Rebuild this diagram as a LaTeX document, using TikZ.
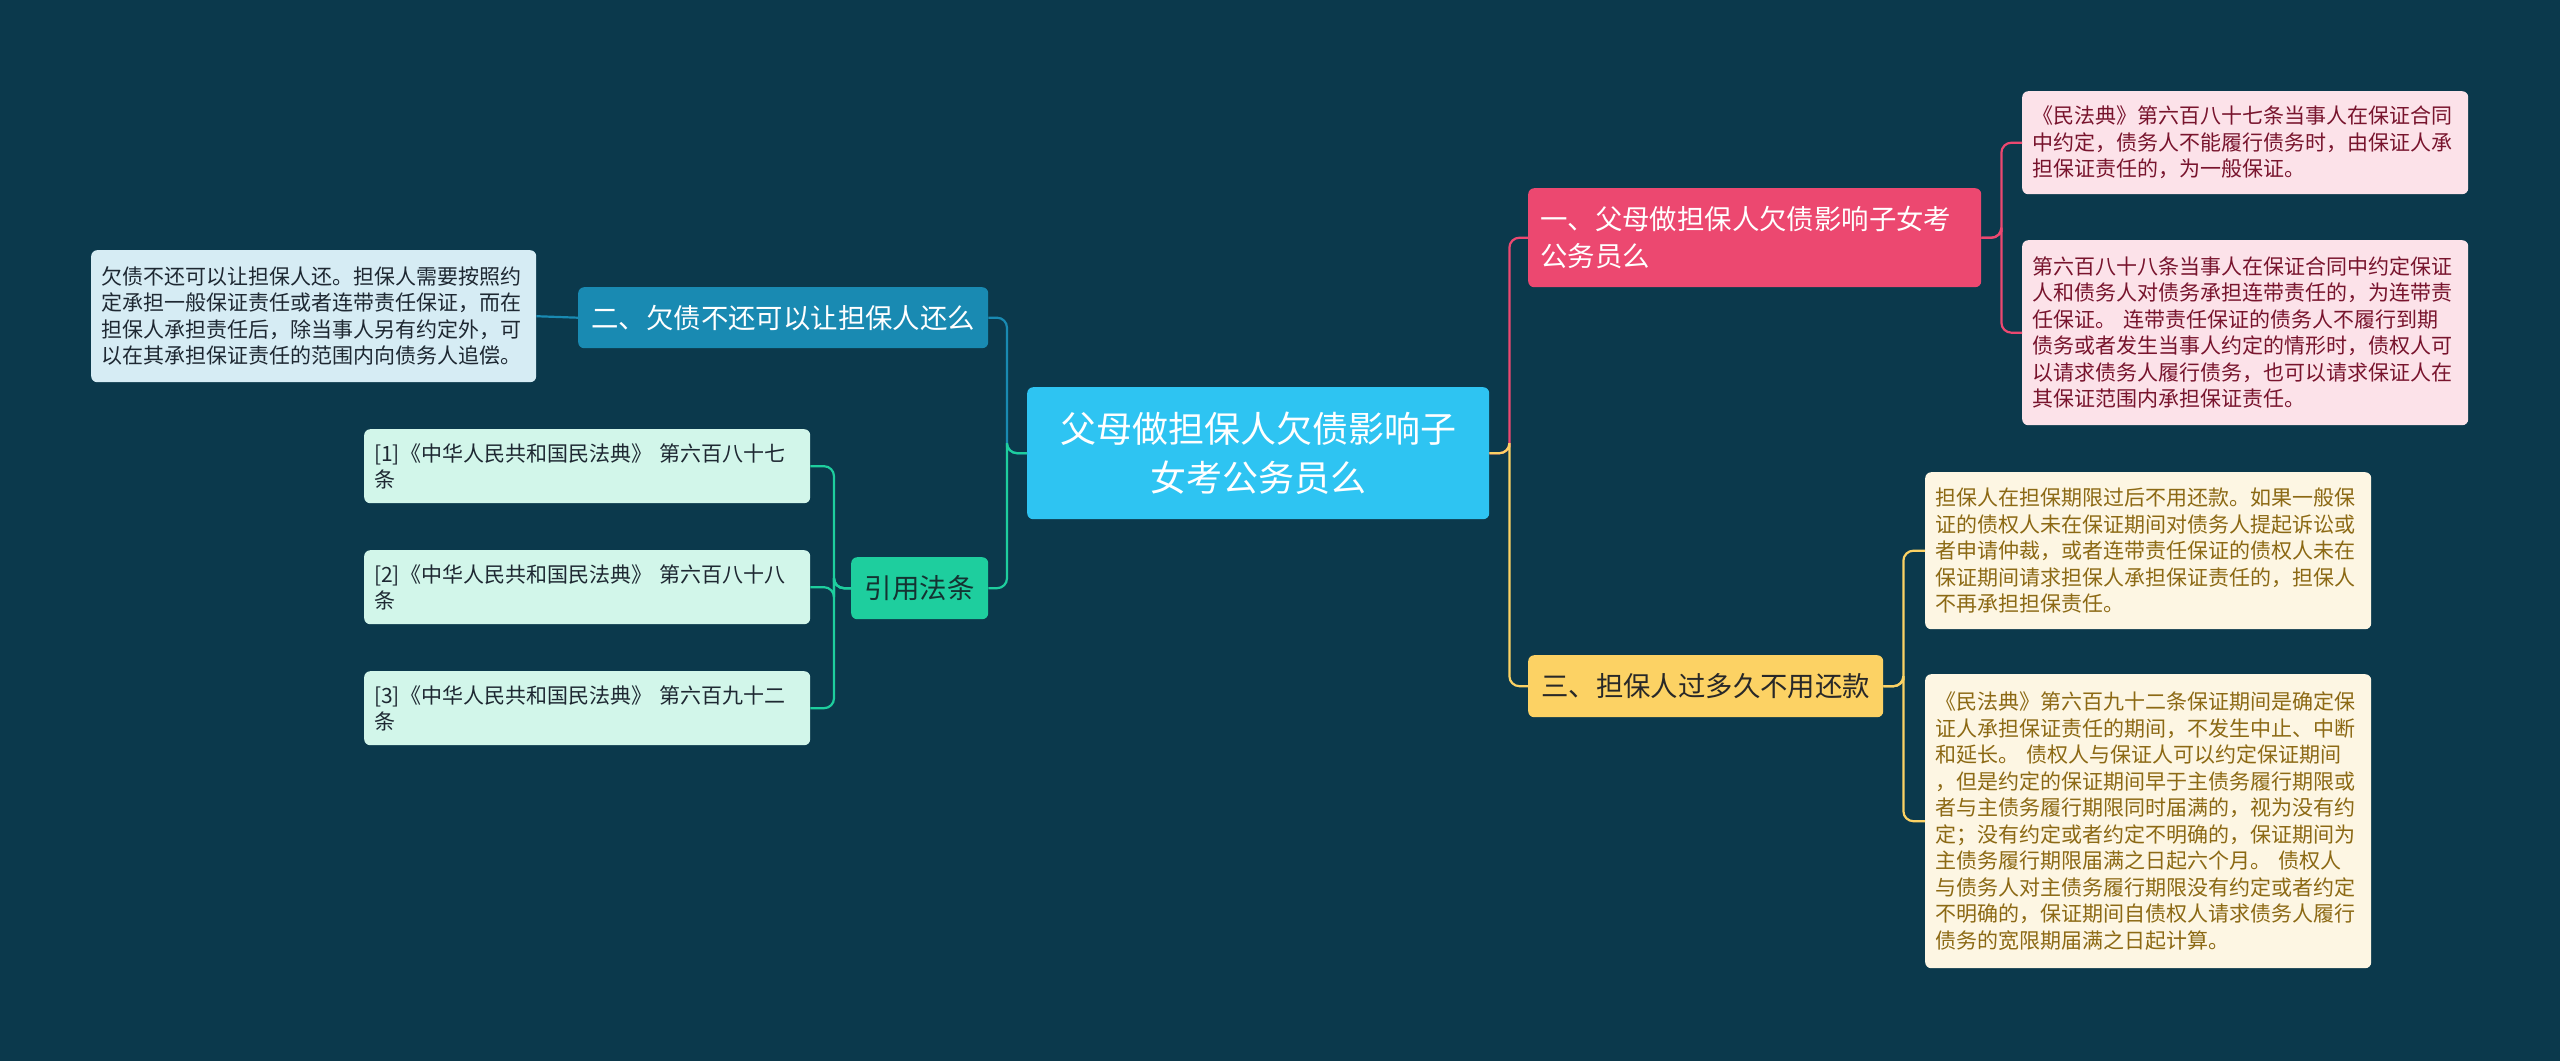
\documentclass[tikz,border=0pt]{standalone}
\usepackage{fontspec}
\setmainfont{Noto Sans CJK SC}
\begin{document}
\begin{tikzpicture}[x=1pt,y=-1pt,
  bx/.style={rounded corners=6pt, inner sep=0pt, anchor=north west, draw=none},
  leaf/.style={bx, inner xsep=10pt, font=\fontsize{21}{26.5}\selectfont, align=left, text width=426pt},
  lnk/.style={line width=2.2pt, rounded corners=10pt}]
\fill[fill={rgb,255:red,11;green,57;blue,76}] (0,0) rectangle (2560,1061);
\useasboundingbox (0,0) rectangle (2560,1061);
\definecolor{pinkd}{RGB}{236,72,112}
\definecolor{yel}{RGB}{252,210,100}
\definecolor{blu}{RGB}{25,138,178}
\definecolor{grn}{RGB}{30,206,158}
% center
\node[bx, fill={rgb,255:red,46;green,196;blue,242}, minimum width=462pt, minimum height=132pt, text=white, font=\fontsize{36}{49}\selectfont, align=center] (c) at (1027,387) {父母做担保人欠债影响子\\女考公务员么};
% branch 1
\node[bx, inner xsep=12pt, fill=pinkd, minimum width=453pt, minimum height=99pt, text=white, font=\fontsize{27.4}{37}\selectfont, align=left, text width=429pt] (b1) at (1528,188) {一、父母做担保人欠债影响子女考\\公务员么};
\node[leaf, fill={rgb,255:red,252;green,226;blue,233}, text={rgb,255:red,120;green,20;blue,45}, minimum width=446pt, minimum height=103pt] (p1) at (2022,91) {《民法典》第六百八十七条当事人在保证合同\\中约定，债务人不能履行债务时，由保证人承\\担保证责任的，为一般保证。};
\node[leaf, fill={rgb,255:red,252;green,226;blue,233}, text={rgb,255:red,120;green,20;blue,45}, minimum width=446pt, minimum height=185pt] (p2) at (2022,240) {第六百八十八条当事人在保证合同中约定保证\\人和债务人对债务承担连带责任的，为连带责\\任保证。 连带责任保证的债务人不履行到期\\债务或者发生当事人约定的情形时，债权人可\\以请求债务人履行债务，也可以请求保证人在\\其保证范围内承担保证责任。};
% branch 3
\node[bx, fill=yel, minimum width=355pt, minimum height=62pt, text={rgb,255:red,40;green,40;blue,40}, font=\fontsize{27.4}{37}\selectfont, align=center] (b3) at (1528,655) {三、担保人过多久不用还款};
\node[leaf, fill={rgb,255:red,253;green,246;blue,227}, text={rgb,255:red,140;green,105;blue,20}, minimum width=446pt, minimum height=157pt] (y1) at (1925,472) {担保人在担保期限过后不用还款。如果一般保\\证的债权人未在保证期间对债务人提起诉讼或\\者申请仲裁，或者连带责任保证的债权人未在\\保证期间请求担保人承担保证责任的，担保人\\不再承担担保责任。};
\node[leaf, fill={rgb,255:red,253;green,246;blue,227}, text={rgb,255:red,140;green,105;blue,20}, minimum width=446pt, minimum height=294pt] (y2) at (1925,674) {《民法典》第六百九十二条保证期间是确定保\\证人承担保证责任的期间，不发生中止、中断\\和延长。 债权人与保证人可以约定保证期间\\，但是约定的保证期间早于主债务履行期限或\\者与主债务履行期限同时届满的，视为没有约\\定；没有约定或者约定不明确的，保证期间为\\主债务履行期限届满之日起六个月。 债权人\\与债务人对主债务履行期限没有约定或者约定\\不明确的，保证期间自债权人请求债务人履行\\债务的宽限期届满之日起计算。};
% branch 2
\node[bx, fill=blu, minimum width=410pt, minimum height=61pt, text=white, font=\fontsize{27.4}{37}\selectfont, align=center] (b2) at (578,287) {二、欠债不还可以让担保人还么};
\node[leaf, fill={rgb,255:red,214;green,236;blue,244}, text={rgb,255:red,30;green,40;blue,50}, minimum width=445pt, minimum height=132pt, text width=425pt] (l1) at (91,250) {欠债不还可以让担保人还。担保人需要按照约\\定承担一般保证责任或者连带责任保证，而在\\担保人承担责任后，除当事人另有约定外，可\\以在其承担保证责任的范围内向债务人追偿。};
% branch 4
\node[bx, fill=grn, minimum width=137pt, minimum height=62pt, text={rgb,255:red,20;green,50;blue,50}, font=\fontsize{27.4}{37}\selectfont, align=center] (b4) at (851,557) {引用法条};
\node[leaf, fill={rgb,255:red,210;green,246;blue,234}, text={rgb,255:red,30;green,40;blue,50}, minimum width=446pt, minimum height=74pt] (g1) at (364,429) {[1]《中华人民共和国民法典》 第六百八十七\\条};
\node[leaf, fill={rgb,255:red,210;green,246;blue,234}, text={rgb,255:red,30;green,40;blue,50}, minimum width=446pt, minimum height=74pt] (g2) at (364,550) {[2]《中华人民共和国民法典》 第六百八十八\\条};
\node[leaf, fill={rgb,255:red,210;green,246;blue,234}, text={rgb,255:red,30;green,40;blue,50}, minimum width=446pt, minimum height=74pt] (g3) at (364,671) {[3]《中华人民共和国民法典》 第六百九十二\\条};
% connectors
\draw[lnk, draw=pinkd] (c.east) -| ++(20,0) |- (b1.west);
\draw[lnk, draw=yel] (c.east) -| ++(20,0) |- (b3.west);
\draw[lnk, draw=blu] (c.west) -| ++(-20,0) |- (b2.east);
\draw[lnk, draw=grn] (c.west) -| ++(-20,0) |- (b4.east);
\draw[lnk, draw=pinkd] (b1.east) -| ++(20,0) |- (p1.west);
\draw[lnk, draw=pinkd] (b1.east) -| ++(20,0) |- (p2.west);
\draw[lnk, draw=yel] (b3.east) -| ++(20,0) |- (y1.west);
\draw[lnk, draw=yel] (b3.east) -| ++(20,0) |- (y2.west);
\draw[lnk, draw=blu] (b2.west) -- (l1.east);
\draw[lnk, draw=grn] (b4.west) -| ++(-17,0) |- (g1.east);
\draw[lnk, draw=grn] (b4.west) -| ++(-17,0) |- (g2.east);
\draw[lnk, draw=grn] (b4.west) -| ++(-17,0) |- (g3.east);
\end{tikzpicture}
\end{document}
